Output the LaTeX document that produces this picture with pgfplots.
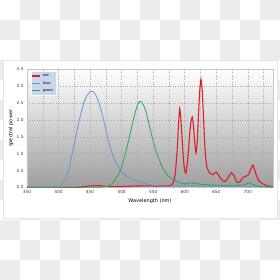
\documentclass[border=0pt]{standalone}
\usepackage{pgfplots}
\pgfplotsset{compat=1.18}
\usepackage{fontspec}
\setmainfont{DejaVu Sans}
\definecolor{cred}{RGB}{222,30,38}
\definecolor{cblue}{RGB}{102,150,214}
\definecolor{cgreen}{RGB}{34,170,84}
\definecolor{chk}{RGB}{236,236,236}
\definecolor{legfill}{RGB}{200,215,238}
\pgfplotstableread{
x y
350 0.0
390 0.0
400 0.01
405 0.06
410 0.2
415 0.45
420 0.85
425 1.3
430 1.75
435 2.15
440 2.5
445 2.72
450 2.83
453 2.85
456 2.82
460 2.7
465 2.45
470 2.1
475 1.7
480 1.32
485 1.0
490 0.78
495 0.6
500 0.46
505 0.37
510 0.3
520 0.21
530 0.15
540 0.1
550 0.06
560 0.04
575 0.03
590 0.04
600 0.05
615 0.05
630 0.04
650 0.03
700 0.02
740 0.01
}\blue
\pgfplotstableread{
x y
350 0.0
460 0.0
470 0.01
480 0.04
487 0.15
493 0.32
498 0.5
503 0.8
508 1.15
513 1.55
518 1.95
522 2.25
526 2.48
529 2.55
532 2.52
536 2.38
540 2.15
545 1.75
550 1.38
555 1.05
560 0.8
565 0.58
570 0.42
575 0.32
580 0.24
590 0.15
600 0.1
608 0.13
615 0.12
625 0.09
640 0.07
660 0.06
680 0.06
695 0.08
702 0.14
708 0.08
720 0.02
740 0.01
}\green
\pgfplotstableread{
x y
350 0.0
430 0.0
440 0.02
450 0.04
460 0.05
470 0.04
480 0.02
495 0.02
510 0.03
530 0.04
550 0.04
570 0.04
578 0.06
582 0.15
585 0.4
588 1.1
590 1.8
592 2.34
594 2.0
596 1.4
598 0.85
600 0.5
602 0.42
604 0.7
606 1.1
608 1.6
610 1.95
612 2.08
614 1.8
616 1.3
618 1.02
620 1.4
622 2.2
624 2.9
626 3.2
628 2.8
630 2.0
632 1.2
634 0.75
636 0.55
640 0.42
645 0.38
650 0.45
655 0.32
660 0.2
665 0.18
670 0.32
674 0.43
678 0.35
683 0.15
688 0.17
693 0.3
700 0.35
704 0.5
708 0.66
712 0.45
716 0.25
720 0.15
726 0.08
732 0.04
740 0.02
}\red
\begin{document}
\begin{tikzpicture}[x=1bp,y=1bp]
\useasboundingbox (0,0) rectangle (280,280);
\fill[white] (0,0) rectangle (280,280);
\foreach \c in {0,...,13}{\foreach \r in {0,...,13}{
  \pgfmathparse{int(mod(\c+\r,2))}
  \ifnum\pgfmathresult=1 \fill[chk] (\c*20,260-\r*20) rectangle (\c*20+20,280-\r*20);\fi}}
\filldraw[fill=white, draw=gray!20, line width=0.5bp] (3,62) rectangle (277,220);
\begin{axis}[
  at={(27bp,92.7bp)}, anchor=south west,
  scale only axis, width=246bp, height=118bp,
  xmin=350, xmax=740, ymin=0, ymax=3.5,
  xtick={350,400,...,700}, minor xtick={375,425,...,725},
  ytick={0,0.5,...,3.5},
  /pgf/number format/assume math mode=true,
  yticklabel style={/pgf/number format/.cd, fixed, fixed zerofill, precision=1},
  xticklabel style={/pgf/number format/1000 sep={}},
  tick label style={font=\fontsize{4.3}{5}\selectfont, text=black!75},
  major tick length=0pt, minor tick length=0pt,
  grid=both,
  major grid style={dotted, gray!65, line width=0.4bp},
  minor grid style={dotted, gray!65, line width=0.4bp},
  axis line style={gray!45, line width=0.5bp},
  axis background/.style={shade, top color=white, bottom color=black!38},
  xlabel={Wavelength (nm)}, ylabel={spectral power},
  label style={font=\fontsize{5}{6}\selectfont},
  xlabel style={at={(0.5,-0.1186)}, anchor=center},
  ylabel style={at={(-0.065,0.5)}, anchor=center},
  legend style={at={(0.016,0.985)}, anchor=north west, fill=legfill, draw=white!80!legfill,
     font=\fontsize{3.6}{4.2}\selectfont, inner sep=0.6bp, row sep=-0.6bp,
     legend cell align=left},
  legend image code/.code={\draw[#1] plot coordinates {(0bp,0bp) (8bp,0bp)};},
]
\addplot[cred, line width=1.1bp, smooth, tension=0.4] table {\red};
\addlegendentry{red}
\addplot[cblue, line width=0.8bp, smooth, tension=0.4] table {\blue};
\addlegendentry{blue}
\addplot[cgreen, line width=0.8bp, smooth, tension=0.4] table {\green};
\addlegendentry{green}
\end{axis}
\end{tikzpicture}
\end{document}
